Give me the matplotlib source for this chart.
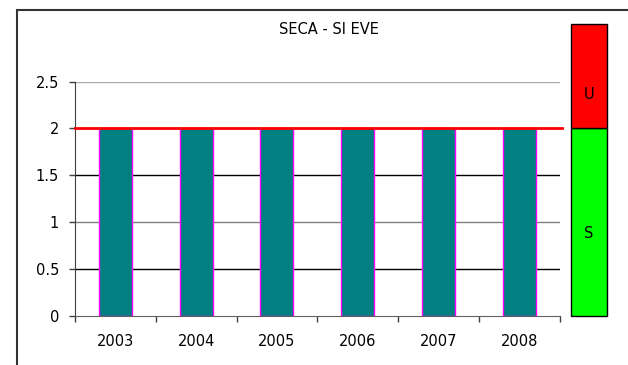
import matplotlib.pyplot as plt
from matplotlib.patches import Rectangle

# data
years = ["2003", "2004", "2005", "2006", "2007", "2008"]
values = [2, 2, 2, 2, 2, 2]
threshold = 2
panel_top = 3.11
yticks = [0, 0.5, 1, 1.5, 2, 2.5]
grid_colors = {0.5: "black", 1: "#808080", 1.5: "black", 2.5: "#a8a8a8"}
zone_labels = ["S", "U"]

fig = plt.figure(figsize=(6.28, 3.65), dpi=100)

# outer frame, runs off the right and bottom edges
fig.patches.append(Rectangle((17 / 628, -0.1), 1.2, 1.1 - 10 / 365,
                             transform=fig.transFigure, fill=False,
                             edgecolor="#333333", linewidth=1.5))

ax = fig.add_axes([75 / 628, 49.3 / 365, 484.5 / 628, 234 / 365])
ax.set_xlim(0, len(years))
ax.set_ylim(0, 2.5)

for y, c in grid_colors.items():
    ax.axhline(y, color=c, linewidth=1, zorder=1)

x = [i + 0.5 for i in range(len(years))]
ax.bar(x, values, width=0.41, color="#008080", edgecolor="#ff00ff",
       linewidth=1, zorder=2)
ax.plot([0, len(years) + 0.03], [threshold, threshold], color="red",
        linewidth=2, zorder=3, clip_on=False)

ax.set_yticks(yticks)
ax.set_yticklabels(["0", "0.5", "1", "1.5", "2", "2.5"])
ax.set_xticks(range(len(years) + 1))
ax.set_xticklabels([])
ax.set_xticks(x, minor=True)
ax.set_xticklabels(years, minor=True)
ax.tick_params(axis="y", length=4.5, width=1, color="#404040", pad=7,
               labelsize=10.5)
ax.tick_params(axis="x", which="major", length=4, width=1, color="#404040")
ax.tick_params(axis="x", which="minor", length=0, pad=13, labelsize=10.5)

for s in ["top", "right"]:
    ax.spines[s].set_visible(False)
ax.spines["left"].set_color("#404040")
ax.spines["bottom"].set_color("#606060")

fig.text(329 / 628, 1 - 30 / 365, "SECA - SI EVE", ha="center",
         va="center", fontsize=10.5)

# status panel on the right
pax = fig.add_axes([570.7 / 628, 49 / 365, 36.3 / 628, 291.7 / 365])
pax.set_xlim(0, 1)
pax.set_ylim(0, panel_top)
pax.bar([0.5], [threshold], width=1, color="#00ff00", edgecolor="black",
        linewidth=1, clip_on=False)
pax.bar([0.5], [panel_top - threshold], bottom=[threshold], width=1,
        color="red", edgecolor="black", linewidth=1, clip_on=False)
pax.text(0.5, threshold * 0.44, zone_labels[0], ha="center", va="center",
         fontsize=10.5)
pax.text(0.5, threshold + (panel_top - threshold) * 0.33, zone_labels[1],
         ha="center", va="center", fontsize=10.5)
pax.axis("off")

fig.savefig("out.png", dpi=100)
